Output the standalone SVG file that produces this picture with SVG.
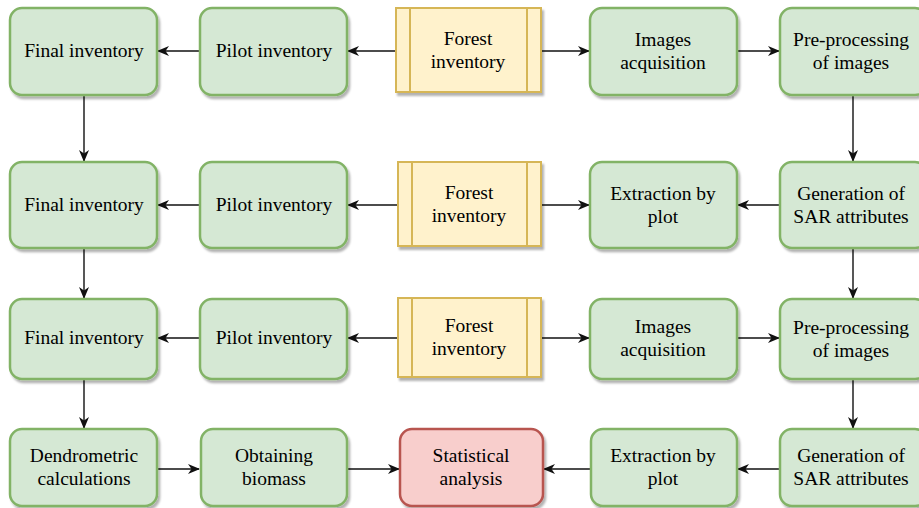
<svg xmlns="http://www.w3.org/2000/svg" width="919" height="508" viewBox="0 0 919 508">
<style>
.g{fill:#d5e8d4;stroke:#82b366;stroke-width:2.5}
.y{fill:#fff2cc;stroke:#d6b656;stroke-width:2}
.r{fill:#f8cecc;stroke:#b85450;stroke-width:2.5}
.t{font-size:19.5px;fill:#000;text-anchor:middle}
.c{stroke:#111;stroke-width:1.4;fill:none;marker-end:url(#a)}
</style>
<defs>
<filter id="s" x="-10%" y="-10%" width="125%" height="130%">
<feDropShadow dx="2" dy="3" stdDeviation="1.2" flood-color="#000" flood-opacity="0.3"/>
</filter>
<marker id="a" viewBox="0 0 12 10" refX="11" refY="5" markerWidth="12" markerHeight="10" markerUnits="userSpaceOnUse" orient="auto">
<path d="M0,0 L12,5 L0,10 L3.5,5 Z" fill="#111"/>
</marker>
</defs>
<rect width="919" height="508" fill="#fff"/>
<g id="connectors">
<line class="c" x1="200" y1="51" x2="158" y2="51"/>
<line class="c" x1="396" y1="51" x2="348" y2="51"/>
<line class="c" x1="542" y1="51" x2="589" y2="51"/>
<line class="c" x1="737" y1="51" x2="779" y2="51"/>
<line class="c" x1="84" y1="95" x2="84" y2="161"/>
<line class="c" x1="853" y1="95" x2="853" y2="161"/>
<line class="c" x1="200" y1="205" x2="158" y2="205"/>
<line class="c" x1="398" y1="205" x2="348" y2="205"/>
<line class="c" x1="542" y1="205" x2="589" y2="205"/>
<line class="c" x1="780" y1="205" x2="738" y2="205"/>
<line class="c" x1="84" y1="249" x2="84" y2="298"/>
<line class="c" x1="853" y1="249" x2="853" y2="298"/>
<line class="c" x1="200" y1="338" x2="158" y2="338"/>
<line class="c" x1="398" y1="338" x2="348" y2="338"/>
<line class="c" x1="542" y1="338" x2="589" y2="338"/>
<line class="c" x1="737" y1="338" x2="779" y2="338"/>
<line class="c" x1="84" y1="379" x2="84" y2="428"/>
<line class="c" x1="853" y1="379" x2="853" y2="428"/>
<line class="c" x1="157" y1="469" x2="199" y2="469"/>
<line class="c" x1="347" y1="469" x2="399" y2="469"/>
<line class="c" x1="590" y1="469" x2="544" y2="469"/>
<line class="c" x1="780" y1="469" x2="738" y2="469"/>
</g>
<g font-family="Liberation Serif, Times New Roman, serif">
<g id="final1"><rect class="g" filter="url(#s)" x="10" y="8" width="147" height="87" rx="12"/><text class="t" x="84" y="57">Final inventory</text></g>
<g id="pilot1"><rect class="g" filter="url(#s)" x="200" y="8" width="147" height="87" rx="12"/><text class="t" x="274" y="57">Pilot inventory</text></g>
<g id="forest1"><rect class="y" filter="url(#s)" x="396" y="8" width="145" height="84"/><line x1="410" y1="8" x2="410" y2="92" stroke="#d6b656" stroke-width="2"/><line x1="527" y1="8" x2="527" y2="92" stroke="#d6b656" stroke-width="2"/><text class="t" x="468" y="45">Forest</text><text class="t" x="468" y="68">inventory</text></g>
<g id="images1"><rect class="g" filter="url(#s)" x="590" y="8" width="147" height="87" rx="12"/><text class="t" x="663" y="46">Images</text><text class="t" x="663" y="69">acquisition</text></g>
<g id="prep1"><rect class="g" filter="url(#s)" x="780" y="8" width="147" height="87" rx="12"/><text class="t" x="851" y="46">Pre-processing</text><text class="t" x="851" y="69">of images</text></g>
<g id="final2"><rect class="g" filter="url(#s)" x="10" y="162" width="147" height="86" rx="12"/><text class="t" x="84" y="211">Final inventory</text></g>
<g id="pilot2"><rect class="g" filter="url(#s)" x="200" y="162" width="147" height="86" rx="12"/><text class="t" x="274" y="211">Pilot inventory</text></g>
<g id="forest2"><rect class="y" filter="url(#s)" x="398" y="162" width="143" height="84"/><line x1="412" y1="162" x2="412" y2="246" stroke="#d6b656" stroke-width="2"/><line x1="527" y1="162" x2="527" y2="246" stroke="#d6b656" stroke-width="2"/><text class="t" x="469" y="199">Forest</text><text class="t" x="469" y="222">inventory</text></g>
<g id="extract2"><rect class="g" filter="url(#s)" x="590" y="162" width="147" height="86" rx="12"/><text class="t" x="663" y="200">Extraction by</text><text class="t" x="663" y="223">plot</text></g>
<g id="gen2"><rect class="g" filter="url(#s)" x="780" y="162" width="147" height="86" rx="12"/><text class="t" x="851" y="200">Generation of</text><text class="t" x="851" y="223">SAR attributes</text></g>
<g id="final3"><rect class="g" filter="url(#s)" x="10" y="299" width="147" height="80" rx="12"/><text class="t" x="84" y="344">Final inventory</text></g>
<g id="pilot3"><rect class="g" filter="url(#s)" x="200" y="299" width="147" height="80" rx="12"/><text class="t" x="274" y="344">Pilot inventory</text></g>
<g id="forest3"><rect class="y" filter="url(#s)" x="398" y="298" width="143" height="79"/><line x1="412" y1="298" x2="412" y2="377" stroke="#d6b656" stroke-width="2"/><line x1="527" y1="298" x2="527" y2="377" stroke="#d6b656" stroke-width="2"/><text class="t" x="469" y="332">Forest</text><text class="t" x="469" y="355">inventory</text></g>
<g id="images3"><rect class="g" filter="url(#s)" x="590" y="299" width="147" height="80" rx="12"/><text class="t" x="663" y="333">Images</text><text class="t" x="663" y="356">acquisition</text></g>
<g id="prep3"><rect class="g" filter="url(#s)" x="780" y="299" width="147" height="80" rx="12"/><text class="t" x="851" y="334">Pre-processing</text><text class="t" x="851" y="357">of images</text></g>
<g id="dendro"><rect class="g" filter="url(#s)" x="10" y="429" width="147" height="77" rx="12"/><text class="t" x="84" y="462">Dendrometric</text><text class="t" x="84" y="485">calculations</text></g>
<g id="biomass"><rect class="g" filter="url(#s)" x="201" y="429" width="146" height="77" rx="12"/><text class="t" x="274" y="462">Obtaining</text><text class="t" x="274" y="485">biomass</text></g>
<g id="stats"><rect class="r" filter="url(#s)" x="400" y="429" width="143" height="77" rx="12"/><text class="t" x="471" y="462">Statistical</text><text class="t" x="471" y="485">analysis</text></g>
<g id="extract4"><rect class="g" filter="url(#s)" x="591" y="429" width="146" height="77" rx="12"/><text class="t" x="663" y="462">Extraction by</text><text class="t" x="663" y="485">plot</text></g>
<g id="gen4"><rect class="g" filter="url(#s)" x="780" y="429" width="147" height="77" rx="12"/><text class="t" x="851" y="462">Generation of</text><text class="t" x="851" y="485">SAR attributes</text></g>
</g>
</svg>
